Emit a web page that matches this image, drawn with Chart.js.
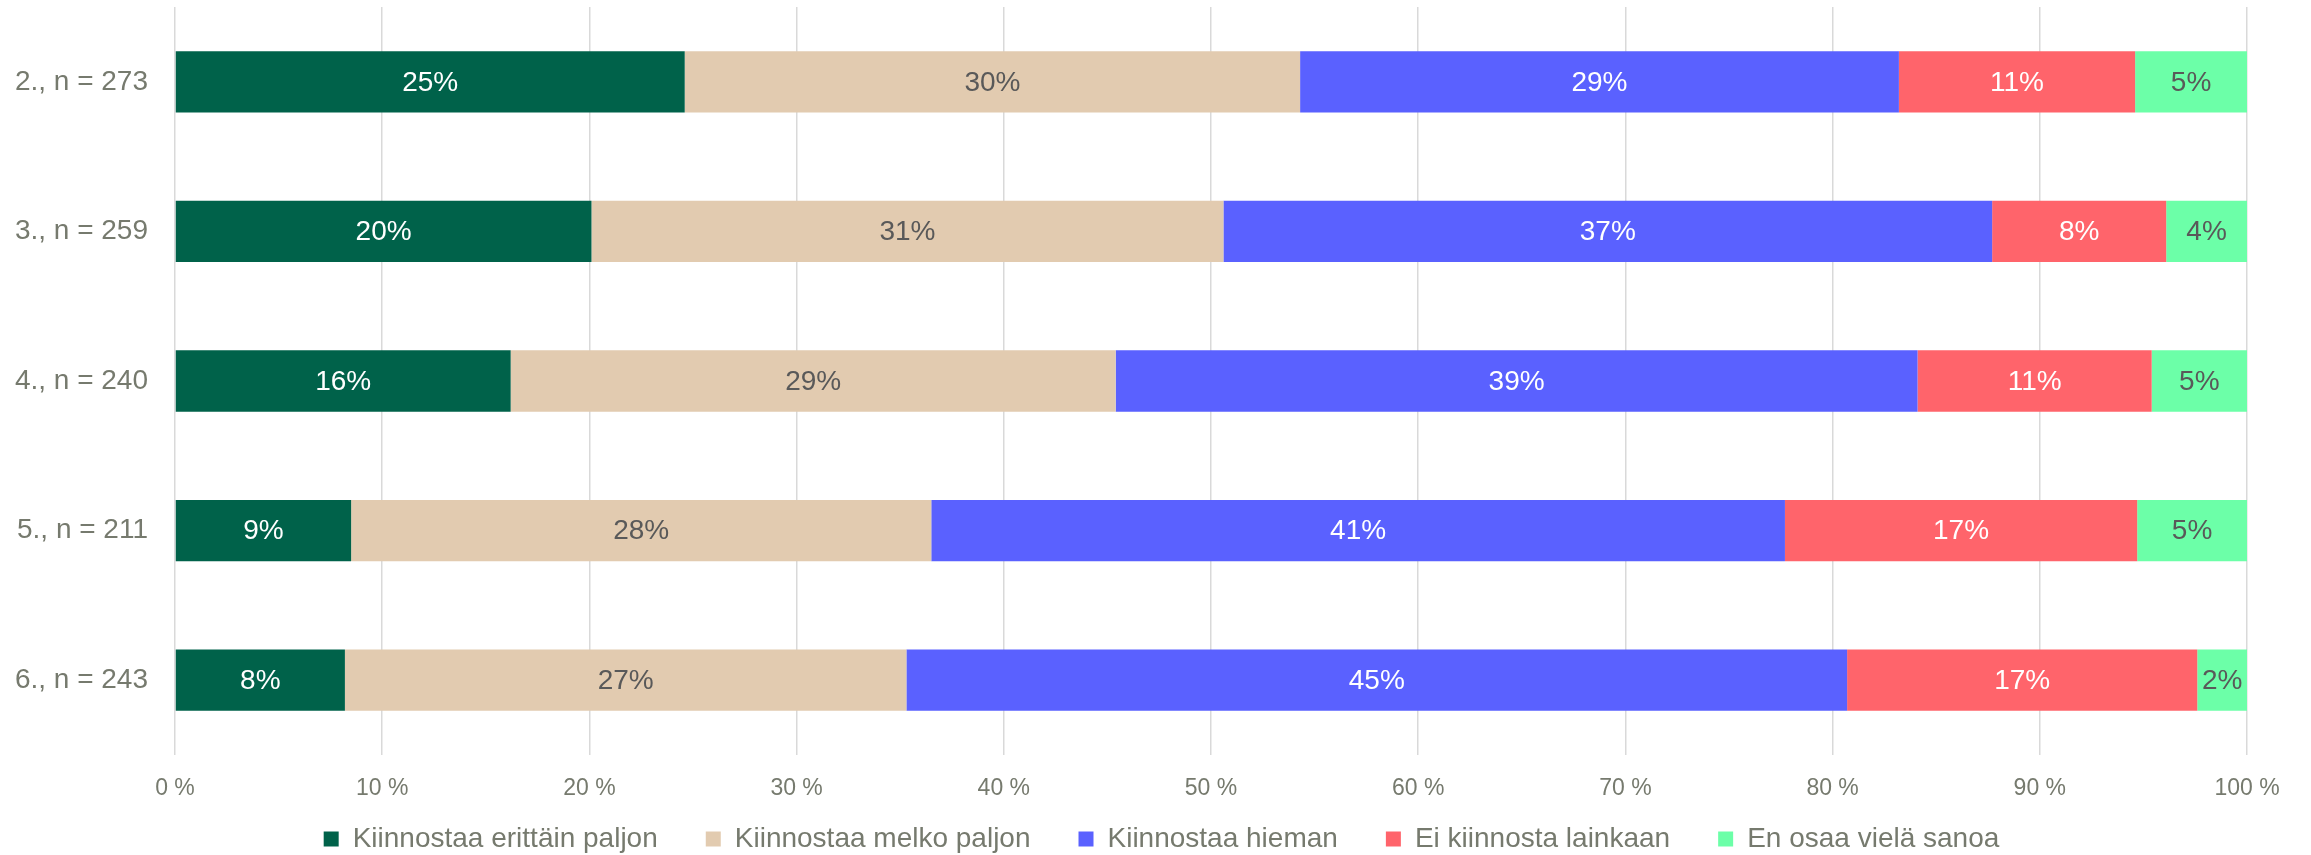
<!DOCTYPE html>
<html>
<head>
<meta charset="utf-8">
<script src="https://cdn.jsdelivr.net/npm/chart.js@4.4.1/dist/chart.umd.min.js"></script>
<style>
html,body{margin:0;padding:0;background:#fff;}
#wrap{width:2311px;height:855px;position:relative;}
</style>
</head>
<body>
<div id="wrap"><canvas id="c" width="2311" height="855"></canvas></div>
<script>
const categories = ['2., n = 273', '3., n = 259', '4., n = 240', '5., n = 211', '6., n = 243'];
const seriesNames = ['Kiinnostaa erittäin paljon', 'Kiinnostaa melko paljon', 'Kiinnostaa hieman', 'Ei kiinnosta lainkaan', 'En osaa vielä sanoa'];
const erittainPaljon = [24.6, 20.1, 16.2, 8.5, 8.2];
const melkoPaljon    = [29.7, 30.5, 29.2, 28.0, 27.1];
const hieman         = [28.9, 37.1, 38.7, 41.2, 45.4];
const eiLainkaan     = [11.4, 8.4, 11.3, 17.0, 16.9];
const enOsaa         = [5.4, 3.9, 4.6, 5.3, 2.4];
const xTicks = [0, 10, 20, 30, 40, 50, 60, 70, 80, 90, 100];

const colors = ['#00624A', '#E2CBB0', '#5A61FF', '#FF646B', '#6CFFA8'];
const labelColors = ['#FFFFFF', '#595959', '#FFFFFF', '#FFFFFF', '#595959'];
const FONT = "'Liberation Sans', Arial, sans-serif";
const axisColor = '#767A6E';

const seriesValues = [erittainPaljon, melkoPaljon, hieman, eiLainkaan, enOsaa];

const labelPlugin = {
  id: 'barLabels',
  afterDatasetsDraw(chart) {
    const ctx = chart.ctx;
    ctx.save();
    ctx.font = '28px ' + FONT;
    ctx.textAlign = 'center';
    ctx.textBaseline = 'middle';
    chart.data.datasets.forEach((ds, i) => {
      const meta = chart.getDatasetMeta(i);
      meta.data.forEach((el, j) => {
        const v = ds.data[j];
        const cx = (el.x + el.base) / 2;
        ctx.fillStyle = labelColors[i];
        ctx.fillText(Math.round(v) + '%', cx, el.y + 1);
      });
    });
    ctx.restore();
  }
};

// Legend: compact box for layout, then place it just below the tick labels
const legendPlace = {
  id: 'legendPlace',
  beforeLayout(chart) {
    const lg = chart.legend;
    if (lg && !lg._compact) {
      const orig = lg.fit;
      lg.fit = function () { orig.call(this); this.height = 36; };
      lg._compact = true;
    }
  },
  afterLayout(chart) {
    const lg = chart.legend;
    if (!lg) return;
    lg.top = chart.chartArea.bottom + 22;
    lg.bottom = lg.top + 86;
    lg.left += 38;
    lg.right += 38;
  }
};

new Chart(document.getElementById('c'), {
  type: 'bar',
  data: {
    labels: categories,
    datasets: seriesNames.map((n, i) => ({
      label: n,
      data: seriesValues[i],
      backgroundColor: colors[i],
      borderWidth: 0,
      categoryPercentage: 1,
      barPercentage: 0.41
    }))
  },
  options: {
    indexAxis: 'y',
    responsive: false,
    animation: false,
    layout: { padding: { left: 0, right: 64, top: 7, bottom: 0 } },
    scales: {
      x: {
        stacked: true,
        min: 0,
        max: 100,
        afterBuildTicks(axis) { axis.ticks = xTicks.map(v => ({ value: v })); },
        afterFit(scale) { scale.height = 64; scale.paddingLeft = 0; scale.paddingRight = 0; },
        grid: { color: '#D9D9D9', lineWidth: 1.5, drawTicks: false },
        border: { display: false },
        ticks: {
          color: axisColor,
          font: { family: FONT, size: 23 },
          padding: 20,
          maxRotation: 0,
          callback: v => v + ' %'
        }
      },
      y: {
        stacked: true,
        afterFit(scale) { scale.width = 175; scale.paddingTop = 0; scale.paddingBottom = 0; },
        grid: { display: false, drawTicks: false },
        border: { display: false },
        ticks: {
          color: axisColor,
          font: { family: FONT, size: 28 },
          padding: 27
        }
      }
    },
    plugins: {
      legend: {
        position: 'bottom',
        labels: {
          color: axisColor,
          font: { family: FONT, size: 28 },
          boxWidth: 15,
          boxHeight: 15,
          padding: 48
        }
      },
      tooltip: { enabled: false }
    }
  },
  plugins: [labelPlugin, legendPlace]
});
</script>
</body>
</html>
